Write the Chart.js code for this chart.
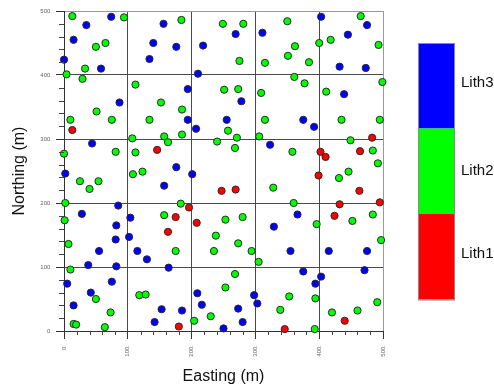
<!DOCTYPE html>
<html>
<head>
<meta charset="utf-8">
<script src="https://cdn.jsdelivr.net/npm/chart.js@4.4.1/dist/chart.umd.min.js"></script>
<style>
  html, body { margin: 0; padding: 0; background: #ffffff; }
  #wrap { width: 494px; height: 392px; }
</style>
</head>
<body>
<div id="wrap"><canvas id="c" width="494" height="392"></canvas></div>
<script>
// Sample locations (Easting, Northing in metres) grouped by lithology
const lith1 = [
  [13,314],[146,283],[402,280],[410,272],[483,302],[464,281],[399,243],[247,219],
  [269,221],[463,219],[432,198],[495,201],[424,180],[196,193],[208,169],[175,178],
  [163,155],[440,16],[346,3],[180,7]
];
const lith2 = [
  [13,492],[94,490],[65,450],[50,444],[33,410],[4,401],[29,394],[184,486],[112,385],
  [152,357],[51,343],[185,346],[10,330],[75,330],[134,330],[107,301],[157,304],[163,295],
  [185,307],[240,296],[0,277],[81,280],[112,279],[108,245],[123,249],[25,234],[54,234],
  [40,222],[249,480],[281,480],[275,422],[350,484],[465,492],[418,455],[400,450],[362,445],
  [493,447],[351,430],[315,419],[384,420],[361,397],[377,387],[499,389],[251,377],[273,378],
  [309,372],[411,374],[257,313],[271,302],[268,286],[315,330],[435,330],[495,330],[306,304],
  [358,280],[449,298],[484,282],[492,262],[446,249],[431,239],[328,224],[360,200],[452,172],
  [484,182],[396,167],[253,174],[280,178],[238,149],[273,137],[235,125],[294,125],[305,108],
  [497,142],[268,89],[253,68],[353,54],[394,51],[339,33],[491,45],[460,32],[420,29],[230,23],
  [393,3],[2,200],[1,173],[7,136],[10,96],[183,199],[157,181],[175,125],[118,56],[128,57],
  [50,50],[73,29],[204,16],[15,11],[19,10],[64,6]
];
const lith3 = [
  [74,491],[35,478],[15,455],[0,424],[58,410],[156,480],[140,450],[176,444],[218,446],
  [134,425],[210,402],[194,378],[87,357],[194,330],[207,316],[44,293],[176,256],[201,245],
  [2,246],[269,464],[311,466],[403,491],[475,478],[445,463],[432,413],[473,411],[278,359],
  [439,370],[255,330],[375,330],[392,319],[323,291],[366,182],[329,163],[355,125],[415,125],
  [475,125],[375,93],[403,85],[394,74],[471,95],[298,56],[303,43],[216,41],[273,35],[280,14],
  [250,4],[157,227],[28,183],[85,196],[82,165],[104,177],[81,143],[102,147],[55,125],[115,125],
  [130,112],[38,103],[82,101],[164,99],[5,74],[75,77],[209,59],[42,60],[15,40],[153,34],
  [142,14],[185,32]
];

// Colour key, top to bottom
const keyLabels = ['Lith3', 'Lith2', 'Lith1'];
const keyColors = ['#0000ff', '#00ff00', '#ff0000'];

const axisMin = 0, axisMax = 500, minorStep = 20, majorStep = 100;

const toPoints = arr => arr.map(([x, y]) => ({ x, y }));

function makeDataset(label, arr, color) {
  return {
    label,
    data: toPoints(arr),
    backgroundColor: color,
    borderColor: '#2a2a2a',
    borderWidth: 1,
    pointRadius: 3.6,
    pointHoverRadius: 3.6,
    clip: false
  };
}

const isMajor = v => Math.abs(v % majorStep) < 1e-6;

const gridColor = ctx => {
  const v = ctx.tick.value;
  if (!isMajor(v)) return 'rgba(0,0,0,0)';
  return v === axisMax ? '#9a9a9a' : '#4a4a4a';
};
const tickColor = ctx => isMajor(ctx.tick.value) ? '#333333' : 'rgba(0,0,0,0)';

// Short minor tick marks between the labelled ticks
const minorTicks = {
  id: 'minorTicks',
  afterDraw(chart) {
    const ctx = chart.ctx;
    const { x, y } = chart.scales;
    ctx.save();
    ctx.strokeStyle = '#444444';
    ctx.lineWidth = 1;
    x.ticks.forEach(t => {
      if (isMajor(t.value)) return;
      const px = Math.round(x.getPixelForValue(t.value)) + 0.5;
      ctx.beginPath();
      ctx.moveTo(px, x.top);
      ctx.lineTo(px, x.top + 4);
      ctx.stroke();
    });
    y.ticks.forEach(t => {
      if (isMajor(t.value)) return;
      const py = Math.round(y.getPixelForValue(t.value)) + 0.5;
      ctx.beginPath();
      ctx.moveTo(y.right, py);
      ctx.lineTo(y.right - 5, py);
      ctx.stroke();
    });
    ctx.restore();
  }
};

// Vertical colour key with lithology names
const colorKey = {
  id: 'colorKey',
  afterDraw(chart) {
    const ctx = chart.ctx;
    const left = 418, top = 43, w = 36, segH = 85.5;
    ctx.save();
    keyColors.forEach((c, i) => {
      ctx.fillStyle = c;
      ctx.fillRect(left, top + i * segH, w, segH);
    });
    ctx.strokeStyle = '#8a8a8a';
    ctx.lineWidth = 1;
    ctx.strokeRect(left + 0.5, top + 0.5, w, segH * keyColors.length);
    ctx.fillStyle = '#111111';
    ctx.font = '15px "Liberation Sans", Arial, sans-serif';
    ctx.textBaseline = 'middle';
    ctx.textAlign = 'left';
    const offsets = [-3, 0, -3];
    keyLabels.forEach((t, i) => {
      ctx.fillText(t, 461, top + i * segH + segH / 2 + offsets[i]);
    });
    ctx.restore();
  }
};

const tickFont = { family: '"Liberation Sans", Arial, sans-serif', size: 6 };
const titleFont = { family: '"Liberation Sans", Arial, sans-serif', size: 16 };

new Chart(document.getElementById('c'), {
  type: 'scatter',
  data: {
    datasets: [
      makeDataset('Lith1', lith1, keyColors[2]),
      makeDataset('Lith2', lith2, keyColors[1]),
      makeDataset('Lith3', lith3, keyColors[0])
    ]
  },
  options: {
    responsive: false,
    animation: false,
    devicePixelRatio: 1,
    layout: { padding: { top: 11, right: 111, bottom: 0, left: 0 } },
    plugins: {
      legend: { display: false },
      tooltip: { enabled: false }
    },
    scales: {
      x: {
        type: 'linear',
        min: axisMin,
        max: axisMax,
        afterFit(scale) { scale.height = 61; },
        border: { display: true, color: '#333333', width: 1 },
        grid: { color: gridColor, tickColor: tickColor, tickLength: 8, lineWidth: 1 },
        ticks: {
          stepSize: minorStep,
          autoSkip: false,
          minRotation: 90,
          maxRotation: 90,
          padding: 6,
          color: '#666666',
          font: tickFont,
          callback: v => isMajor(v) ? v + '.' : ''
        },
        title: {
          display: true,
          text: 'Easting (m)',
          color: '#111111',
          font: titleFont,
          padding: { top: 0, bottom: 6 }
        }
      },
      y: {
        type: 'linear',
        min: axisMin,
        max: axisMax,
        afterFit(scale) { scale.width = 64; },
        border: { display: true, color: '#333333', width: 1 },
        grid: { color: gridColor, tickColor: tickColor, tickLength: 8, lineWidth: 1 },
        ticks: {
          stepSize: minorStep,
          autoSkip: false,
          padding: 4,
          color: '#666666',
          font: tickFont,
          callback: v => isMajor(v) ? v + '.' : ''
        },
        title: {
          display: true,
          text: 'Northing (m)',
          color: '#111111',
          font: titleFont,
          padding: { top: 10, bottom: 0 }
        }
      }
    }
  },
  plugins: [minorTicks, colorKey]
});
</script>
</body>
</html>
